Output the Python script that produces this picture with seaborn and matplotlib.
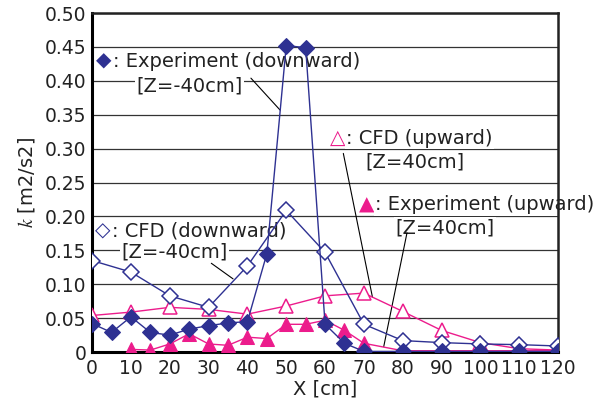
import matplotlib
matplotlib.use("Agg")
import matplotlib.pyplot as plt
import seaborn as sns
import pandas as pd

# ---- data ----
x_exp_down = [0, 5, 10, 15, 20, 25, 30, 35, 40, 45, 50, 55, 60, 65, 70, 80, 90, 100, 110, 120]
k_exp_down = [0.042, 0.029, 0.052, 0.029, 0.025, 0.034, 0.039, 0.043, 0.045, 0.145, 0.452, 0.449,
              0.041, 0.013, 0.001, 0.001, 0.001, 0.001, 0.001, 0.001]

x_cfd = [0, 10, 20, 30, 40, 50, 60, 70, 80, 90, 100, 110, 120]
k_cfd_down = [0.135, 0.118, 0.083, 0.066, 0.127, 0.209, 0.147, 0.041, 0.017, 0.014, 0.012, 0.011, 0.009]
k_cfd_up = [0.054, 0.059, 0.066, 0.063, 0.056, 0.068, 0.083, 0.087, 0.060, 0.032, 0.014, 0.005, 0.003]

x_exp_up = [10, 15, 20, 25, 30, 35, 40, 45, 50, 55, 60, 65, 70, 80, 90, 100, 110, 120]
k_exp_up = [0.004, 0.003, 0.012, 0.027, 0.012, 0.010, 0.022, 0.020, 0.041, 0.041, 0.047, 0.032,
            0.013, 0.002, 0.002, 0.002, 0.002, 0.002]

x_ticks = list(range(0, 121, 10))
y_ticks = [0, 0.05, 0.10, 0.15, 0.20, 0.25, 0.30, 0.35, 0.40, 0.45, 0.50]
y_tick_labels = ["0", "0.05", "0.10", "0.15", "0.20", "0.25", "0.30", "0.35", "0.40", "0.45", "0.50"]

navy = "#2E3192"
magenta = "#EC1C8C"

sns.set_theme(style="white")
plt.rcParams['font.family'] = ['DejaVu Sans']
plt.rcParams['mathtext.fontset'] = 'stix'

fig = plt.figure(figsize=(6.02, 4.08), dpi=100)
ax = fig.add_axes([0.153, 0.137, 0.774, 0.831])

df_ed = pd.DataFrame({"x": x_exp_down, "k": k_exp_down})
df_cd = pd.DataFrame({"x": x_cfd, "k": k_cfd_down})
df_cu = pd.DataFrame({"x": x_cfd, "k": k_cfd_up})
df_eu = pd.DataFrame({"x": x_exp_up, "k": k_exp_up})

common = dict(ax=ax, x="x", y="k", linewidth=1.0, zorder=3)
sns.lineplot(data=df_cu, color=magenta, marker="^", markersize=10, markerfacecolor="white",
             markeredgecolor=magenta, markeredgewidth=1.1, **common)
sns.lineplot(data=df_eu, color=magenta, marker="^", markersize=10, markerfacecolor=magenta,
             markeredgecolor=magenta, **common)
sns.lineplot(data=df_cd, color=navy, marker="D", markersize=8, markerfacecolor="white",
             markeredgecolor=navy, markeredgewidth=1.1, **common)
sns.lineplot(data=df_ed, color=navy, marker="D", markersize=8, markerfacecolor=navy,
             markeredgecolor=navy, **common)

ax.set_xlim(0, 120)
ax.set_ylim(0, 0.5)
ax.set_xticks(x_ticks)
ax.set_yticks(y_ticks)
ax.set_yticklabels(y_tick_labels)
ax.tick_params(axis="x", direction="in", length=4, width=1.5, color="black",
               labelsize=13.5, pad=5, labelcolor="#222222")
ax.tick_params(axis="y", length=0, labelsize=13.5, pad=4, labelcolor="#222222")
ax.set_axisbelow(True)
ax.yaxis.grid(True, color="#333333", linewidth=0.9)
ax.xaxis.grid(False)
for s in ["left", "bottom"]:
    ax.spines[s].set_linewidth(2.2)
    ax.spines[s].set_color("black")
for s in ["top", "right"]:
    ax.spines[s].set_linewidth(1.8)
    ax.spines[s].set_color("#222222")

ax.set_xlabel("X [cm]", fontsize=14, color="#222222", labelpad=1)
ax.set_ylabel("$k$ [m2/s2]", fontsize=14, color="#222222", labelpad=6)

fs = 14
bb = dict(facecolor="white", edgecolor="none", pad=1)
tc = "#222222"

def label(gx, gy, glyph, gcol, tx, line1, x2, y2, line2):
    ax.text(gx, gy, glyph, color=gcol, fontsize=14.5, ha="center", va="center", zorder=1.5)
    ax.text(tx, gy, ": " + line1, color=tc, fontsize=fs, ha="left", va="center", zorder=1.5, bbox=bb)
    ax.text(x2, y2, line2, color=tc, fontsize=fs, ha="left", va="center", zorder=1.5, bbox=bb)

label(3.0, 0.429, "\u25C6", navy, 5.4, "Experiment (downward)", 11.3, 0.393, "[Z=-40cm]")
label(2.7, 0.179, "\u25C7", navy, 5.1, "CFD (downward)", 7.6, 0.148, "[Z=-40cm]")
label(63.2, 0.315, "\u25B3", magenta, 65.4, "CFD (upward)", 70.4, 0.281, "[Z=40cm]")
label(70.7, 0.217, "\u25B2", magenta, 72.9, "Experiment (upward)", 78.1, 0.183, "[Z=40cm]")

lp = dict(arrowstyle="-", color="black", linewidth=0.8, shrinkA=0, shrinkB=0)
ax.annotate("", xy=(48.4, 0.357), xytext=(40.9, 0.404), arrowprops=lp, zorder=2)
ax.annotate("", xy=(36.3, 0.108), xytext=(30.7, 0.131), arrowprops=lp, zorder=2)
ax.annotate("", xy=(72.2, 0.081), xytext=(64.7, 0.293), arrowprops=lp, zorder=2)
ax.annotate("", xy=(75.1, 0.008), xytext=(81.1, 0.176), arrowprops=lp, zorder=2)

fig.savefig("out.png", dpi=100)
